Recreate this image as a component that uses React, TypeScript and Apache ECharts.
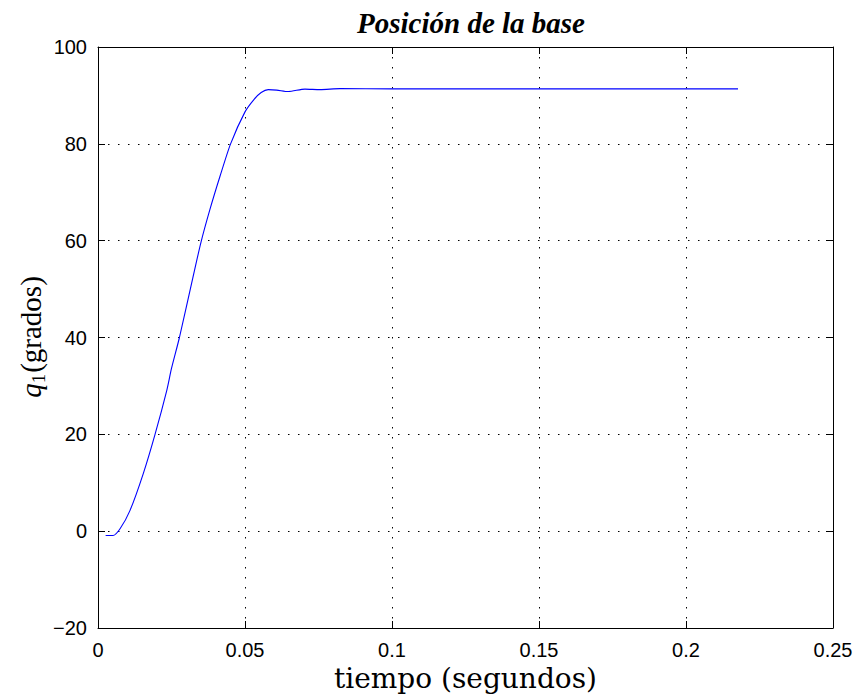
import React, { useEffect, useRef } from "react";
import * as echarts from "echarts";

const tiempo = [
  0.0026, 0.0051, 0.0075, 0.0109, 0.0154, 0.0194, 0.0234, 0.025, 0.0277, 0.0321,
  0.035, 0.0381, 0.0415, 0.0451, 0.05, 0.0531, 0.0555, 0.0579, 0.0608, 0.0647,
  0.0704, 0.0755, 0.0823, 0.1, 0.15, 0.2177,
];
const q1 = [
  -0.9, -0.9, 0.5, 4.3, 11.9, 20, 29.1, 33.6, 40, 51.9,
  59.6, 66.5, 73.3, 80, 86.6, 89.2, 90.6, 91.2, 91.1, 90.8,
  91.3, 91.2, 91.4, 91.35, 91.35, 91.35,
];
const xTicks = [0, 0.05, 0.1, 0.15, 0.2, 0.25];
const yTicks = [-20, 0, 20, 40, 60, 80, 100];

const title = "Posición de la base";
const xName = "tiempo (segundos)";
const yNameVar = "q";
const yNameSub = "1";
const yNameRest = "(grados)";

function measure(text: string, font: string): number {
  const c = document.createElement("canvas").getContext("2d");
  if (!c) return text.length * 12;
  c.font = font;
  return c.measureText(text).width;
}

export default function App() {
  const ref = useRef<HTMLDivElement>(null);
  useEffect(() => {
    if (!ref.current) return;
    const chart = echarts.init(ref.current, undefined, { renderer: "svg" });
    const grid = { left: 98, right: 25, top: 47, bottom: 71 };
    const tickFont = { fontFamily: "Liberation Sans", fontSize: 20, color: "#000" };
    const gridLine = { show: true, lineStyle: { color: "#000", width: 1, type: [1.5, 8.5] as any } };
    const axisLine = { show: true, onZero: false, lineStyle: { color: "#000", width: 1 } };
    const tick = { show: true, inside: true, length: 7, lineStyle: { color: "#000", width: 1 } };
    const fmt = (v: number) => String(v).replace("-", "\u2212");
    const serif = "DejaVu Serif";
    const ySerif = "Liberation Serif";

    const mainSize = 29;
    const subSize = 19;
    const wq = measure(yNameVar, `italic ${mainSize}px "${ySerif}"`);
    const ws = measure(yNameSub, `${subSize}px "${ySerif}"`);
    const wr = measure(yNameRest, `${mainSize}px "${ySerif}"`);
    const total = wq + ws + 1 + wr;
    const x0 = -total / 2;

    chart.setOption({
      animation: false,
      backgroundColor: "#fff",
      title: {
        text: title,
        left: 466,
        top: 3,
        textAlign: "center",
        textStyle: {
          fontFamily: "Liberation Serif",
          fontStyle: "italic",
          fontWeight: "bold",
          fontSize: 29,
          color: "#000",
        },
      },
      grid,
      graphic: [
        {
          type: "group",
          x: 31,
          y: 337,
          rotation: Math.PI / 2,
          children: [
            {
              type: "text",
              x: x0,
              y: 0,
              style: {
                text: yNameVar,
                fontFamily: ySerif,
                fontSize: mainSize,
                fontStyle: "italic",
                fill: "#000",
                align: "left",
                verticalAlign: "middle",
              },
            },
            {
              type: "text",
              x: x0 + wq,
              y: 7,
              style: {
                text: yNameSub,
                fontFamily: ySerif,
                fontSize: subSize,
                fill: "#000",
                align: "left",
                verticalAlign: "middle",
              },
            },
            {
              type: "text",
              x: x0 + wq + ws + 1,
              y: 0,
              style: {
                text: yNameRest,
                fontFamily: ySerif,
                fontSize: mainSize,
                fill: "#000",
                align: "left",
                verticalAlign: "middle",
              },
            },
          ],
        },
      ],
      xAxis: [
        {
          type: "value",
          min: xTicks[0],
          max: xTicks[xTicks.length - 1],
          interval: 0.05,
          position: "bottom",
          axisLine,
          axisTick: tick,
          splitLine: gridLine,
          axisLabel: { ...tickFont, margin: 12, formatter: (v: number) => fmt(v) },
          name: xName,
          nameLocation: "middle",
          nameGap: 33,
          nameTextStyle: { fontFamily: serif, fontSize: 28, color: "#000" },
        },
        {
          type: "value",
          min: xTicks[0],
          max: xTicks[xTicks.length - 1],
          interval: 0.05,
          position: "top",
          axisLine,
          axisTick: tick,
          splitLine: { show: false },
          axisLabel: { show: false },
        },
      ],
      yAxis: [
        {
          type: "value",
          min: yTicks[0],
          max: yTicks[yTicks.length - 1],
          interval: 20,
          position: "left",
          axisLine,
          axisTick: tick,
          splitLine: gridLine,
          axisLabel: { ...tickFont, margin: 11, formatter: (v: number) => fmt(v) },
        },
        {
          type: "value",
          min: yTicks[0],
          max: yTicks[yTicks.length - 1],
          interval: 20,
          position: "right",
          axisLine,
          axisTick: tick,
          splitLine: { show: false },
          axisLabel: { show: false },
        },
      ],
      series: [
        {
          type: "line",
          data: tiempo.map((t, i) => [t, q1[i]]),
          showSymbol: false,
          symbol: "none",
          smooth: 0.25,
          lineStyle: { color: "#0000ff", width: 1.1 },
        },
      ],
    });
    return () => chart.dispose();
  }, []);
  return (
    <div
      ref={ref}
      style={{ position: "fixed", left: 0, top: 0, width: 858, height: 699, background: "#fff" }}
    />
  );
}
